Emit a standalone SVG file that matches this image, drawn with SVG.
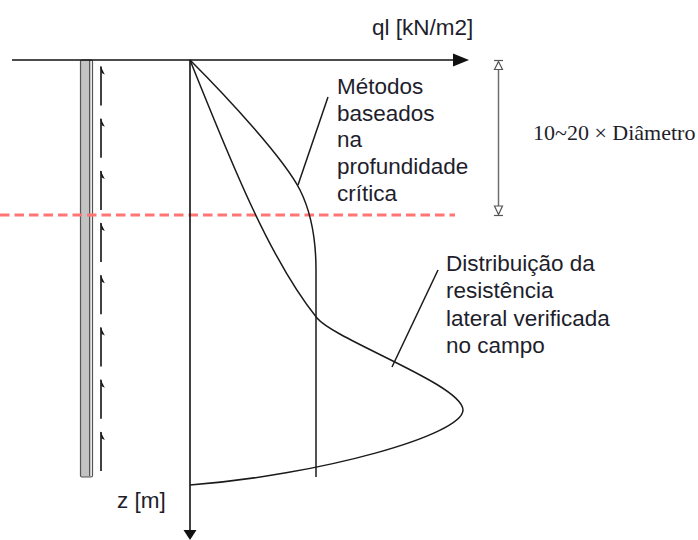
<svg xmlns="http://www.w3.org/2000/svg" width="698" height="540" viewBox="0 0 698 540">
<style>
.t{font-family:"Liberation Sans",Arial,sans-serif;font-size:22.5px;fill:#1e1e2c}
.ts{font-family:"Liberation Serif","Times New Roman",serif;font-size:22px;fill:#1e1e2c}
.ln{fill:none;stroke:#1a1a1a;stroke-width:1.5}
.ar{fill:none;stroke:#111;stroke-width:1.6}
.dim{fill:none;stroke:#6e6e6e;stroke-width:1.5}
</style>
<defs>
<g id="up">
<line x1="0" y1="1" x2="0" y2="40" stroke="#111" stroke-width="1.6"/>
<polygon points="-0.8,0 3.8,9 0.8,7.5" fill="#111"/>
</g>
</defs>
<rect width="698" height="540" fill="#fff"/>

<g id="pile">
<rect x="80.5" y="60" width="12" height="417" rx="1.5" fill="#c3c3c3" stroke="#555" stroke-width="1.2"/>
<rect x="90.2" y="61" width="1.8" height="415" fill="#e8e8e8"/>
<line x1="89.6" y1="60" x2="89.6" y2="476" stroke="#555" stroke-width="1.2"/>
</g>

<g id="shaft-arrows">
<use href="#up" x="101" y="65.5"/>
<use href="#up" x="101" y="117.7"/>
<use href="#up" x="101" y="169.9"/>
<use href="#up" x="101" y="222.1"/>
<use href="#up" x="101" y="274.3"/>
<use href="#up" x="101" y="326.5"/>
<use href="#up" x="101" y="378.7"/>
<use href="#up" x="101" y="430.9"/>
</g>

<g id="critical-depth-line">
<line x1="0" y1="215" x2="455" y2="215" stroke="#ff7474" stroke-width="3" stroke-dasharray="9.5 5"/>
</g>

<g id="axes">
<line x1="12" y1="60" x2="455" y2="60" class="ar"/>
<polygon points="453,53.5 469,60 453,66.5" fill="#111"/>
<line x1="190" y1="60" x2="190" y2="530" class="ar"/>
<polygon points="183.5,530 196.5,530 190,540" fill="#111"/>
</g>

<g id="connectors">
<path class="ln" d="M190,60 C230,100 285,160 300,190 C310,210 316,235 316,270 L316,477"/>
<path class="ln" d="M190,60 C230,160 270,260 317,318 C335,340 463,385 463,410 C463,435 320,475 190,485"/>
<line class="ln" x1="328" y1="97" x2="298" y2="185" stroke-width="1.3"/>
<line class="ln" x1="438" y1="270" x2="392" y2="367" stroke-width="1.3"/>
</g>

<g id="dimension">
<line class="dim" x1="498.5" y1="62" x2="498.5" y2="214"/>
<line x1="494" y1="60.5" x2="503" y2="60.5" stroke="#555" stroke-width="1.2"/>
<polygon points="498.5,61.5 494.5,69.5 502.5,69.5" fill="#fff" stroke="#555" stroke-width="1.2"/>
<line x1="494" y1="215.5" x2="503" y2="215.5" stroke="#555" stroke-width="1.2"/>
<polygon points="498.5,214.5 494.5,206 502.5,206" fill="#fff" stroke="#555" stroke-width="1.2"/>
<text class="ts" x="533" y="140">10~20 × Diâmetro</text>
</g>

<g id="label-ql"><text class="t" x="372" y="35">ql [kN/m2]</text></g>
<g id="label-z"><text class="t" x="117" y="508">z [m]</text></g>
<g id="label-metodos">
<text class="t" x="337" y="94">Métodos</text>
<text class="t" x="337" y="121">baseados</text>
<text class="t" x="337" y="147">na</text>
<text class="t" x="337" y="174">profundidade</text>
<text class="t" x="337" y="201">crítica</text>
</g>
<g id="label-distribuicao">
<text class="t" x="446" y="271">Distribuição da</text>
<text class="t" x="446" y="298">resistência</text>
<text class="t" x="446" y="326">lateral verificada</text>
<text class="t" x="446" y="353">no campo</text>
</g>
</svg>
